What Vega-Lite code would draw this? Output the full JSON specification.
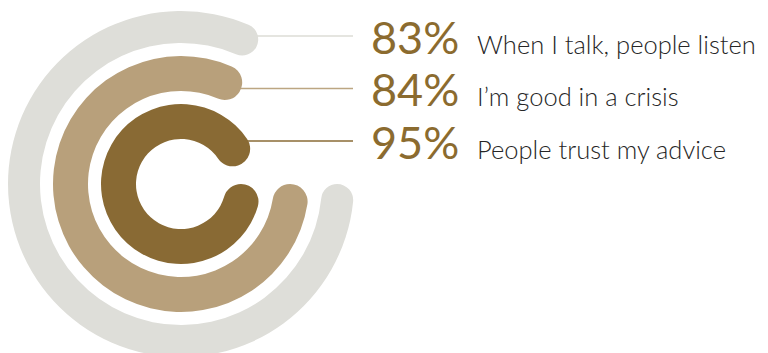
{
  "$schema": "https://vega.github.io/schema/vega-lite/v6.json",
  "padding": 0,
  "spacing": 0,
  "config": {"view": {"stroke": null}},
  "data": {"values": [
    {"item": "When I talk, people listen", "pct": 83, "label": "83%"},
    {"item": "I’m good in a crisis", "pct": 84, "label": "84%"},
    {"item": "People trust my advice", "pct": 95, "label": "95%"}
  ]},
  "resolve": {"scale": {"x": "independent", "y": "independent", "color": "independent"}},
  "hconcat": [
    {
      "width": 362,
      "height": 368,
      "layer": [
        {
          "mark": {"type": "rule", "strokeWidth": 1.3},
          "encoding": {
            "y": {"field": "item", "type": "nominal", "sort": null, "axis": null,
                  "scale": {"type": "point", "range": [36, 141], "padding": 0}},
            "x": {"datum": 225, "type": "quantitative", "axis": null, "scale": {"domain": [0, 362], "range": [0, 362]}},
            "x2": {"datum": 353},
            "color": {"field": "item", "type": "nominal", "sort": null, "legend": null,
                      "scale": {"range": ["#DCDCD6", "#BCA682", "#8A6B36"]}}
          }
        },
        {
          "transform": [{"filter": "datum.pct == 83"}],
          "mark": {"type": "arc", "radius": 173, "radius2": 141, "cornerRadius": 16, "color": "#DEDED9"},
          "encoding": {
            "theta": {"field": "pct", "type": "quantitative", "stack": null,
                      "scale": {"domain": [0, 100], "range": [1.5708, 7.854]}},
            "theta2": {"datum": 0}
          }
        },
        {
          "transform": [{"filter": "datum.pct == 84"}],
          "mark": {"type": "arc", "radius": 128, "radius2": 93, "cornerRadius": 17.5, "color": "#B8A07B"},
          "encoding": {
            "theta": {"field": "pct", "type": "quantitative", "stack": null,
                      "scale": {"domain": [0, 100], "range": [1.5708, 7.854]}},
            "theta2": {"datum": 0}
          }
        },
        {
          "transform": [{"filter": "datum.pct == 95"}],
          "mark": {"type": "arc", "radius": 80, "radius2": 45, "cornerRadius": 17.5, "color": "#896A34"},
          "encoding": {
            "theta": {"field": "pct", "type": "quantitative", "stack": null,
                      "scale": {"domain": [0, 100], "range": [1.5708, 7.854]}},
            "theta2": {"datum": 0}
          }
        }
      ]
    },
    {
      "width": 406,
      "height": 368,
      "encoding": {
        "y": {"field": "item", "type": "nominal", "sort": null, "axis": null,
              "scale": {"type": "point", "range": [53.5, 158.5], "padding": 0}}
      },
      "layer": [
        {
          "mark": {"type": "text", "align": "left", "baseline": "alphabetic", "font": "Lato", "fontWeight": 400, "fontSize": 45, "color": "#8B6B2F"},
          "encoding": {
            "x": {"datum": 9, "type": "quantitative", "axis": null, "scale": {"domain": [0, 406], "range": [0, 406]}},
            "text": {"field": "label"}
          }
        },
        {
          "mark": {"type": "text", "align": "left", "baseline": "alphabetic", "font": "Lato", "fontWeight": 300, "fontSize": 25.5, "color": "#262626"},
          "encoding": {
            "x": {"datum": 115, "type": "quantitative", "axis": null, "scale": {"domain": [0, 406], "range": [0, 406]}},
            "text": {"field": "item"}
          }
        }
      ]
    }
  ]
}
